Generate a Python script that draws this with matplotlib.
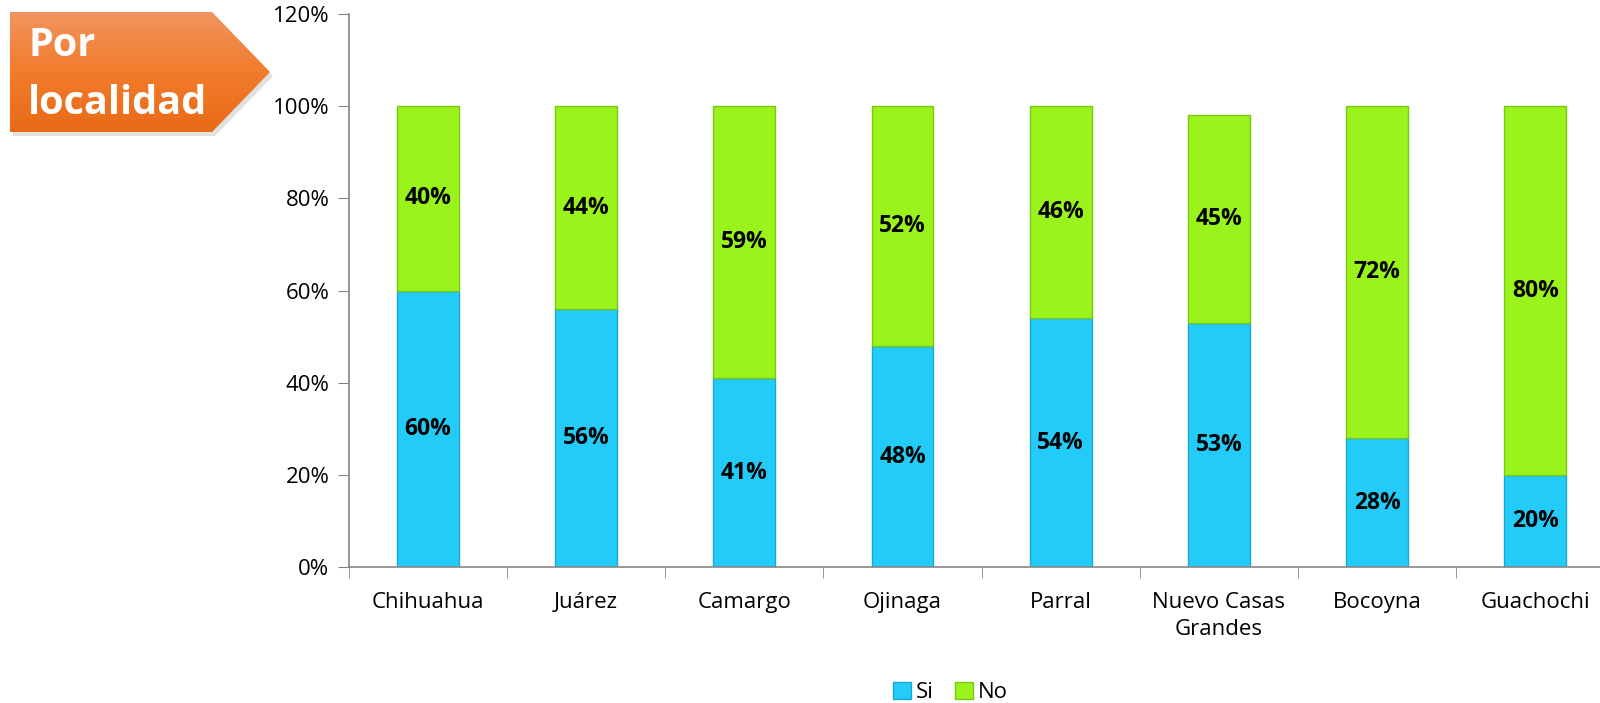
import matplotlib.pyplot as plt
import numpy as np
from matplotlib.patches import Polygon
from matplotlib.colors import LinearSegmentedColormap

localidades = ["Chihuahua", "Juárez", "Camargo", "Ojinaga", "Parral",
               "Nuevo Casas\nGrandes", "Bocoyna", "Guachochi"]
si = [60, 56, 41, 48, 54, 53, 28, 20]
no = [40, 44, 59, 52, 46, 45, 72, 80]
yticks = [0, 20, 40, 60, 80, 100, 120]

plt.rcParams["font.family"] = ["Open Sans", "DejaVu Sans"]

fig = plt.figure(figsize=(16, 7.03), dpi=100)
ax = fig.add_axes([0.218, 0.193, 0.791, 0.787])

x = np.arange(len(localidades))
w = 0.39
b1 = ax.bar(x, si, w, color="#22CBF8", edgecolor="#17A9D2", linewidth=1, label="Si")
b2 = ax.bar(x, no, w, bottom=si, color="#9AF31B", edgecolor="#7CC714", linewidth=1, label="No")

for i in range(len(x)):
    ax.text(x[i], si[i] / 2, f"{si[i]}%", ha="center", va="center",
            fontsize=16.5, fontweight="bold", color="black")
    ax.text(x[i], si[i] + no[i] / 2, f"{no[i]}%", ha="center", va="center",
            fontsize=16.5, fontweight="bold", color="black")

ax.set_xlim(-0.5, len(x) - 0.5)
ax.set_ylim(0, 120)
ax.set_yticks(yticks)
ax.set_yticklabels([f"{t}%" for t in yticks], fontsize=16)
ax.set_xticks(x)
ax.set_xticklabels(localidades, fontsize=16, linespacing=1.35)
ax.set_xticks(np.arange(len(x) + 1) - 0.5, minor=True)
ax.tick_params(axis="x", which="major", length=0, pad=18)
ax.tick_params(axis="x", which="minor", length=8, color="#868686")
ax.tick_params(axis="y", length=8, color="#868686", pad=6)
for s in ["top", "right"]:
    ax.spines[s].set_visible(False)
for s in ["left", "bottom"]:
    ax.spines[s].set_color("#868686")
    ax.spines[s].set_linewidth(1.2)

leg = fig.legend(handles=[b1, b2], loc="center", bbox_to_anchor=(0.594, 0.015),
                 ncol=2, frameon=False, fontsize=16, handlelength=0.8,
                 handleheight=0.8, handletextpad=0.2, columnspacing=1.0)

# badge "Por localidad"
bax = fig.add_axes([0, 0, 1, 1], zorder=-1)
bax.set_xlim(0, 1600)
bax.set_ylim(703, 0)
bax.axis("off")
pts = [(10, 12), (212, 12), (270, 72), (212, 132), (10, 132)]
shadow = Polygon([(px + 3, py + 4) for px, py in pts], closed=True,
                 facecolor="#000000", alpha=0.12, edgecolor="none", zorder=-5)
bax.add_patch(shadow)
poly = Polygon(pts, closed=True, facecolor="none", edgecolor="none")
bax.add_patch(poly)
grad = np.linspace(0, 1, 100).reshape(-1, 1)
cmap = LinearSegmentedColormap.from_list("o", ["#F29460", "#F17C2C", "#E96A16"])
img = bax.imshow(grad, extent=[10, 270, 132, 12], cmap=cmap, aspect="auto",
                 origin="upper", zorder=0)
img.set_clip_path(poly)
bax.set_xlim(0, 1600)
bax.set_ylim(703, 0)
bax.text(28, 46, "Por", color="white", fontsize=28.5, fontweight="bold", va="center")
bax.text(28, 103, "localidad", color="white", fontsize=28.5, fontweight="bold", va="center")

plt.savefig("out.png", dpi=100)
